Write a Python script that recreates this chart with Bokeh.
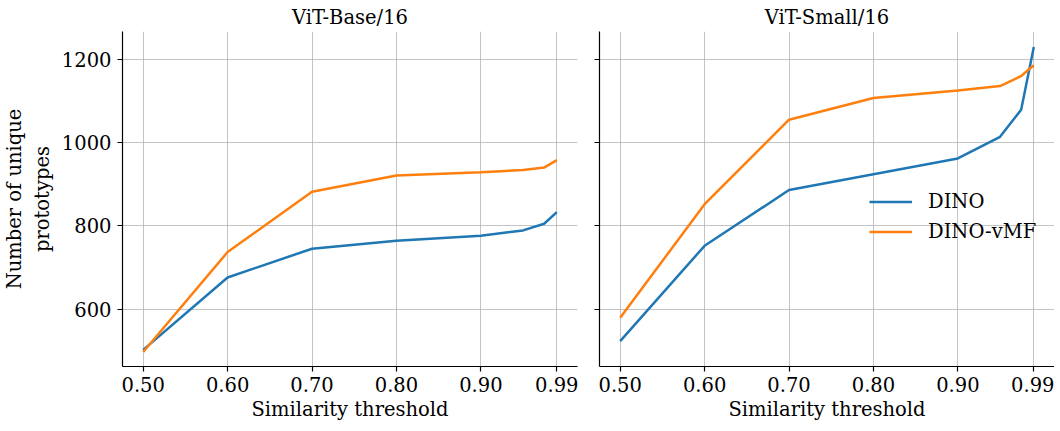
from bokeh.plotting import figure
from bokeh.layouts import row
from bokeh.models import FixedTicker, Range1d, Legend, LegendItem
from bokeh.embed import file_html
from bokeh.resources import INLINE

thresholds = [0.5, 0.6, 0.7, 0.8, 0.9, 0.95, 0.975, 0.99]
base_dino = [502, 676, 745, 764, 776, 789, 805, 833]
base_vmf = [497, 737, 882, 921, 929, 934, 940, 958]
small_dino = [523, 752, 886, 924, 962, 1014, 1079, 1230]
small_vmf = [579, 852, 1055, 1107, 1125, 1136, 1160, 1186]

x_ticks = [0.5, 0.6, 0.7, 0.8, 0.9, 0.99]
x_tick_labels = ["0.50", "0.60", "0.70", "0.80", "0.90", "0.99"]
y_ticks = [600, 800, 1000, 1200]
titles = ["ViT-Base/16", "ViT-Small/16"]
series_names = ["DINO", "DINO-vMF"]
colors = ["#1f77b4", "#ff7f0e"]

FONT = "DejaVu Serif"
FS = "19.5px"


def make_fig(title, frame_w, bl, br, show_ylabels):
    p = figure(frame_width=frame_w, frame_height=335, output_backend="svg", toolbar_location=None,
               x_range=Range1d(0.4755, 1.0145), y_range=Range1d(462, 1267),
               min_border_left=bl, min_border_right=br, min_border_top=22,
               min_border_bottom=30)
    p.outline_line_color = None
    p.title.text = title
    p.title.align = "center"
    p.title.text_font = FONT
    p.title.text_font_style = "normal"
    p.title.text_font_size = FS
    p.title.text_color = "#000000"
    p.title.standoff = 6
    p.title.offset = 0
    for ax in (p.xaxis[0], p.yaxis[0]):
        ax.major_label_text_font = FONT
        ax.major_label_text_font_size = FS
        ax.major_label_text_color = "#000000"
        ax.axis_label_text_font = FONT
        ax.axis_label_text_font_size = FS
        ax.axis_label_text_font_style = "normal"
        ax.axis_label_text_color = "#000000"
        ax.axis_line_color = "#000000"
        ax.axis_line_width = 1.2
        ax.major_tick_line_color = "#000000"
        ax.major_tick_line_width = 1.2
        ax.major_tick_out = 5
        ax.major_tick_in = 0
        ax.minor_tick_line_color = None
    p.xaxis.major_label_standoff = 5
    p.xaxis.axis_label_standoff = 3
    p.yaxis.major_label_standoff = 6
    p.yaxis.axis_label_standoff = 5
    p.xaxis.ticker = FixedTicker(ticks=x_ticks)
    p.xaxis.major_label_overrides = {t: l for t, l in zip(x_ticks, x_tick_labels)}
    p.xaxis.axis_label = "Similarity threshold"
    p.yaxis.ticker = FixedTicker(ticks=y_ticks)
    if show_ylabels:
        p.yaxis.axis_label = "Number of unique\nprototypes"
    else:
        p.yaxis.major_label_text_font_size = "0px"
        p.yaxis.major_label_text_color = None
    for g in (p.xgrid[0], p.ygrid[0]):
        g.grid_line_color = "#b0b0b0"
        g.grid_line_alpha = 0.75
        g.grid_line_width = 1
    return p


p1 = make_fig(titles[0], 455, 116, 11, True)
p2 = make_fig(titles[1], 455, 11, 0, False)

for p, data in ((p1, (base_dino, base_vmf)), (p2, (small_dino, small_vmf))):
    rs = []
    for vals, c in zip(data, colors):
        rs.append(p.line(thresholds, vals, line_color=c, line_width=2.5))
    if p is p2:
        legend = Legend(items=[LegendItem(label=n, renderers=[r]) for n, r in zip(series_names, rs)],
                        location=(270, 123))
        legend.border_line_color = None
        legend.background_fill_alpha = 0
        legend.padding = 0
        legend.margin = 0
        legend.spacing = 7
        legend.glyph_width = 43
        legend.glyph_height = 23
        legend.label_height = 23
        legend.label_standoff = 16
        legend.label_text_font = FONT
        legend.label_text_font_size = FS
        legend.label_text_color = "#000000"
        p.add_layout(legend, "center")

layout = row(p1, p2)
open("out.html", "w").write(file_html(layout, INLINE))
